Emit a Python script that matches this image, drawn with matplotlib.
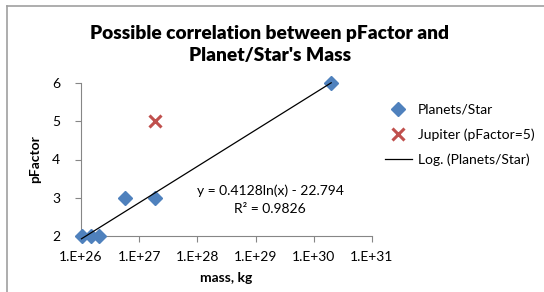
import numpy as np
import matplotlib
matplotlib.use('Agg')
import matplotlib.pyplot as plt
from matplotlib.lines import Line2D

plt.rcParams['font.family'] = ['Lato', 'DejaVu Sans']

# data
planet_mass = [1.02e26, 1.48e26, 2.05e26, 5.68e26, 1.90e27, 1.99e30]
planet_pfactor = [2, 2, 2, 3, 3, 6]
jupiter_mass = [1.90e27]
jupiter_pfactor = [5]
# log trendline shown on the chart: y = a*ln(x) + b
trend_a = 0.4128
trend_b = -22.794
trend_r2 = 0.9826
xticks = [1e26, 1e27, 1e28, 1e29, 1e30, 1e31]
xtick_labels = ['1.E+26', '1.E+27', '1.E+28', '1.E+29', '1.E+30', '1.E+31']
yticks = [2, 3, 4, 5, 6]

fig = plt.figure(figsize=(5.44, 2.92), dpi=100)
ax = fig.add_axes([81/544, 1 - 236/292, (372 - 81)/544, (236 - 83)/292])

# chart border (clipped on right and bottom)
fig.add_artist(Line2D([7/544, 7/544], [0, 1 - 6/292], color='#a0a0a0', lw=1.2))
fig.add_artist(Line2D([7/544, 1], [1 - 6/292, 1 - 6/292], color='#a0a0a0', lw=1.2))

tx = np.array([min(planet_mass), max(planet_mass)])
ty = trend_a * np.log(tx) + trend_b

ax.plot(planet_mass, planet_pfactor, 'D', color='#4F81BD', ms=7, mec='#4F81BD',
        label='Planets/Star', zorder=3, clip_on=False)
ax.plot(jupiter_mass, jupiter_pfactor, 'x', color='#C0504D', ms=8, mew=2.2,
        label='Jupiter (pFactor=5)', zorder=3, clip_on=False)
ax.plot(tx, ty, '-', color='black', lw=0.9, label='Log. (Planets/Star)', zorder=4,
        clip_on=False)

ax.set_xscale('log')
ax.set_xlim(1e26, 1e31)
ax.set_ylim(2, 6)
ax.set_xticks(xticks)
ax.set_xticklabels(xtick_labels)
ax.xaxis.set_minor_locator(matplotlib.ticker.NullLocator())
ax.set_yticks(yticks)
for s in ['top', 'right']:
    ax.spines[s].set_visible(False)
for s in ['left', 'bottom']:
    ax.spines[s].set_color('#868686')
ax.tick_params(axis='both', colors='#868686', labelcolor='black', labelsize=10,
               length=4, width=0.8)
ax.tick_params(axis='x', pad=7)
ax.tick_params(axis='y', pad=11)

ax.set_xlabel('mass, kg', fontsize=10, fontweight='bold', labelpad=6)
ax.set_ylabel('pFactor', fontsize=10, fontweight='bold', labelpad=8)

fig.text(270/544, 1 - 44.5/292, "Possible correlation between pFactor and\nPlanet/Star's Mass",
         ha='center', va='center', fontsize=13.8, fontweight='heavy', linespacing=1.4)

ax.text(270/544, 1 - 191/292, 'y = %.4fln(x) - %.3f' % (trend_a, -trend_b),
        transform=fig.transFigure, ha='center', va='center', fontsize=10)
ax.text(270/544, 1 - 209/292, 'R² = %.4f' % trend_r2,
        transform=fig.transFigure, ha='center', va='center', fontsize=10)

ax.legend(loc='upper left', bbox_to_anchor=(372/544, 1 - 91/292),
          bbox_transform=fig.transFigure, frameon=False, fontsize=10,
          handlelength=2.0, labelspacing=0.9, handletextpad=0.4)

fig.savefig('out.png', dpi=100)
